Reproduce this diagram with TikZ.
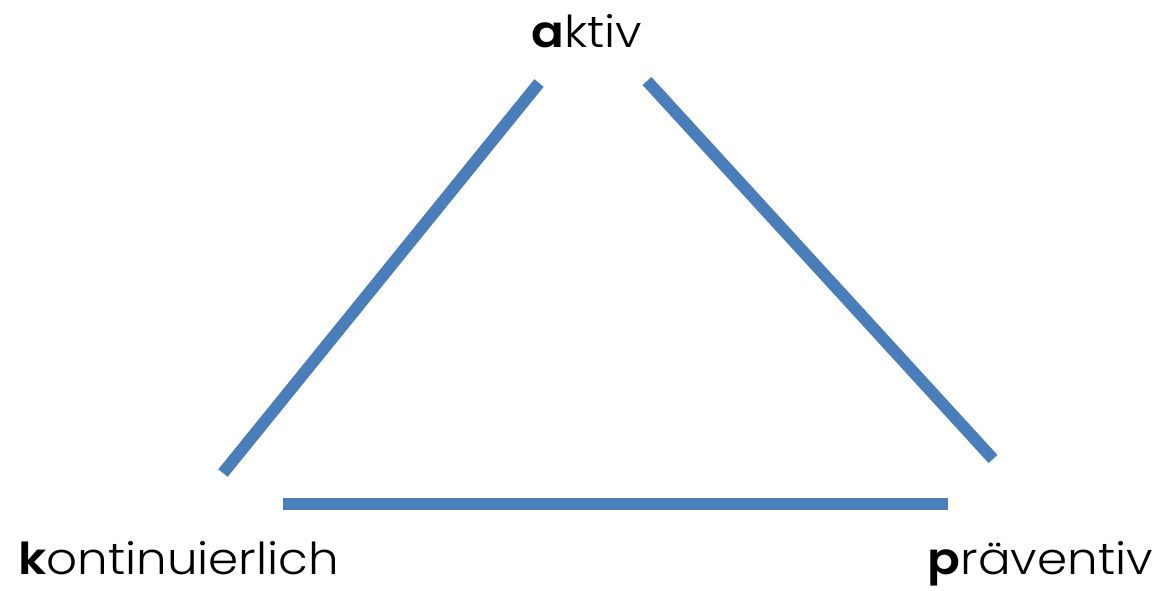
\documentclass[tikz,border=0pt]{standalone}
\usepackage{fontspec}
\setmainfont{Poppins}[UprightFont=* Light, BoldFont=* SemiBold]
\definecolor{edgeblue}{HTML}{4A7EBB}
\begin{document}
\begin{tikzpicture}[x=1pt,y=-1pt,
  edge/.style={draw=edgeblue,line width=12pt},
  lbl/.style={font=\fontsize{44}{52}\selectfont,inner sep=0pt,xscale=1.1}]
\useasboundingbox (0,0) rectangle (1158,590);
\node[lbl,anchor=base] (a) at (587,47) {\textbf{a}ktiv};
\node[lbl,anchor=base west] (k) at (18,574) {\textbf{k}ontinuierlich};
\node[lbl,anchor=base east] (p) at (1153,574) {\textbf{p}räventiv};
\coordinate (l1) at (223,473);
\coordinate (l2) at (539,83);
\coordinate (r1) at (647,81);
\coordinate (r2) at (993,459);
\coordinate (b1) at (283,504);
\coordinate (b2) at (948,504);
\draw[edge] (l1) -- (l2);
\draw[edge] (r1) -- (r2);
\draw[edge] (b1) -- (b2);
\end{tikzpicture}
\end{document}
